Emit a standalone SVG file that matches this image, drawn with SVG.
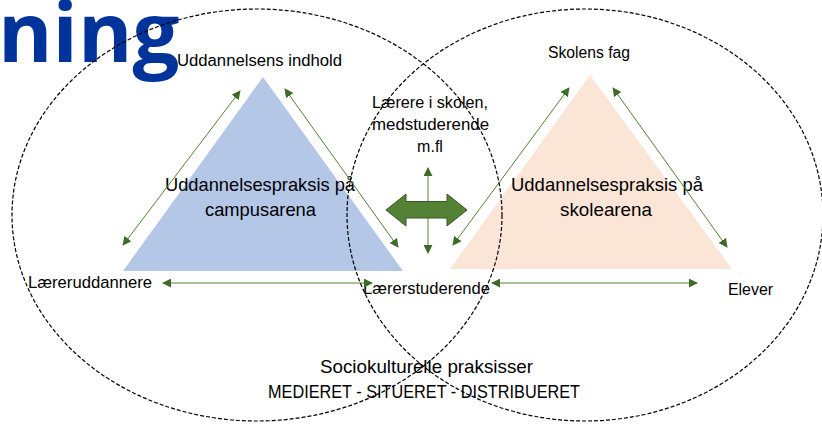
<svg xmlns="http://www.w3.org/2000/svg" width="822" height="425" viewBox="0 0 822 425">
<defs>
<style>
.t{font-family:"Liberation Sans",Arial,sans-serif;fill:#000;}
.s15{font-size:16px;}
.s17{font-size:18.5px;}
.s18{font-size:18.5px;}
.c{fill:none;stroke:#548235;stroke-width:1;}
.e{fill:none;stroke:#000;stroke-width:1.2;stroke-dasharray:4 2;}
</style>
<marker id="ah" viewBox="0 0 10 10" refX="9" refY="5" markerWidth="9" markerHeight="9" markerUnits="userSpaceOnUse" orient="auto-start-reverse">
<path d="M0,0 L10,5 L0,10 Z" fill="#3f6b28"/>
</marker>
</defs>
<rect width="822" height="425" fill="#fff"/>

<g id="title">
<text x="-2" y="62" style="font-family:'Open Sans',sans-serif;font-weight:bold;font-size:83px;fill:#00349A;">ning</text>
</g>

<g id="tri-campus">
<polygon points="263,77 403,271 123,271" fill="#B4C7E7"/>
<text class="t s17" x="165" y="191" textLength="190" lengthAdjust="spacingAndGlyphs">Uddannelsespraksis på</text>
<text class="t s17" x="205" y="216" textLength="111" lengthAdjust="spacingAndGlyphs">campusarena</text>
</g>

<g id="tri-skole">
<polygon points="590,75 732,269 450,269" fill="#FBE5D6"/>
<text class="t s17" x="511" y="191" textLength="192" lengthAdjust="spacingAndGlyphs">Uddannelsespraksis på</text>
<text class="t s17" x="560" y="216" textLength="92" lengthAdjust="spacingAndGlyphs">skolearena</text>
</g>

<g id="n-indhold"><text class="t s15" x="177" y="66" textLength="165" lengthAdjust="spacingAndGlyphs">Uddannelsens indhold</text></g>
<g id="n-fag"><text class="t s15" x="548" y="58" textLength="82" lengthAdjust="spacingAndGlyphs">Skolens fag</text></g>
<g id="n-laerere">
<text class="t s15" x="372" y="108" textLength="116" lengthAdjust="spacingAndGlyphs">Lærere i skolen,</text>
<text class="t s15" x="372" y="130" textLength="117" lengthAdjust="spacingAndGlyphs">medstuderende</text>
<text class="t s15" x="430" y="152" text-anchor="middle">m.fl</text>
</g>
<g id="n-laereruddannere"><text class="t s15" x="28" y="288" textLength="124" lengthAdjust="spacingAndGlyphs">Læreruddannere</text></g>
<g id="n-laererstuderende"><text class="t s15" x="363" y="294" textLength="127" lengthAdjust="spacingAndGlyphs">Lærerstuderende</text></g>
<g id="n-elever"><text class="t s15" x="728" y="295" textLength="45" lengthAdjust="spacingAndGlyphs">Elever</text></g>
<g id="n-socio">
<text class="t s18" x="320" y="373" textLength="213" lengthAdjust="spacingAndGlyphs">Sociokulturelle praksisser</text>
<text class="t s18" x="268" y="398" textLength="312" lengthAdjust="spacingAndGlyphs">MEDIERET - SITUERET - DISTRIBUERET</text>
</g>

<g id="connectors">
<line class="c" x1="240" y1="91" x2="123" y2="245" marker-start="url(#ah)" marker-end="url(#ah)"/>
<line class="c" x1="285" y1="89" x2="398" y2="247" marker-start="url(#ah)" marker-end="url(#ah)"/>
<line class="c" x1="163" y1="283" x2="372" y2="283" marker-start="url(#ah)" marker-end="url(#ah)"/>
<line class="c" x1="569" y1="88" x2="453" y2="245" marker-start="url(#ah)" marker-end="url(#ah)"/>
<line class="c" x1="613" y1="88" x2="727" y2="247" marker-start="url(#ah)" marker-end="url(#ah)"/>
<line class="c" x1="492" y1="283" x2="697" y2="283" marker-start="url(#ah)" marker-end="url(#ah)"/>
<line class="c" x1="428" y1="168" x2="428" y2="253" marker-start="url(#ah)" marker-end="url(#ah)"/>
<polygon id="big-arrow" points="386,210 406,194 406,201.5 447,201.5 447,194 467,210 447,226 447,218 406,218 406,226" fill="#548235" stroke="#385723" stroke-width="1"/>
</g>

<g id="arenas">
<ellipse class="e" cx="257" cy="215" rx="245" ry="206"/>
<ellipse class="e" cx="585" cy="215" rx="238" ry="206"/>
</g>
</svg>
